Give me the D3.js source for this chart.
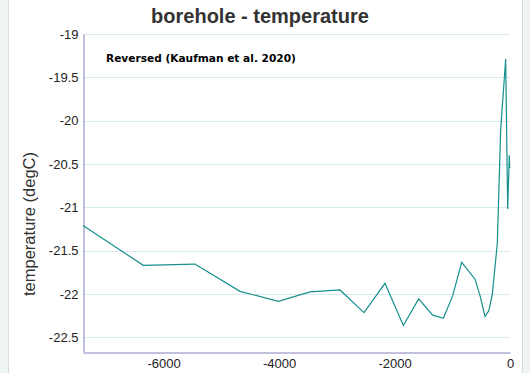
<!DOCTYPE html>
<html>
<head>
<meta charset="utf-8">
<script src="https://cdn.jsdelivr.net/npm/d3@7"></script>
<style>
  body { margin: 0; background: #fff; }
  svg text { font-family: "Liberation Sans", Arial, sans-serif; }
</style>
</head>
<body>
<div id="chart-area"></div>
<script>
// borehole temperature record (years CE, degC)
var years = [-7394, -6350, -5455, -4675, -4012, -3463, -2944, -2528, -2165, -1847,
  -1581, -1339, -1154, -992, -836, -606, -519, -433, -364, -306,
  -220, -161, -75, -40, -12, -5];
var temps = [-21.21, -21.67, -21.655, -21.97, -22.085, -21.977, -21.954, -22.215, -21.877, -22.364,
  -22.057, -22.245, -22.28, -22.02, -21.636, -21.83, -22.02, -22.26, -22.19, -22.0,
  -21.42, -20.10, -19.29, -21.02, -20.4, -20.55];
var yTicks = [-19, -19.5, -20, -20.5, -21, -21.5, -22, -22.5];
var xTicks = [-6000, -4000, -2000, 0];

var width = 530;
var height = 373;
var margin = {top: 34, right: 20, bottom: 21, left: 83};

var svg = d3.select("#chart-area").append("svg")
  .attr("width", width)
  .attr("height", height)

// page side bands
svg.append("rect").attr("x", 0).attr("y", 0).attr("width", 8).attr("height", height).attr("fill", "#eef4f4")
svg.append("rect").attr("x", 523).attr("y", 0).attr("width", 7).attr("height", height).attr("fill", "#eef4f4")
svg.append("line").attr("x1", 8.5).attr("x2", 8.5).attr("y1", 0).attr("y2", height).attr("stroke", "#d8dcdc")
svg.append("line").attr("x1", 522.5).attr("x2", 522.5).attr("y1", 0).attr("y2", height).attr("stroke", "#d8dcdc")

var x = d3.scaleLinear()
  .domain([-7394, 0])
  .range([margin.left, 510])

var y = d3.scaleLinear()
  .domain([-22.67, -19])
  .range([height - margin.bottom, margin.top])

// grid
svg.append("g")
  .selectAll("line").data(yTicks).enter().append("line")
  .attr("x1", margin.left).attr("x2", 510)
  .attr("y1", d => Math.round(y(d)) + 0.5).attr("y2", d => Math.round(y(d)) + 0.5)
  .attr("stroke", "#d6eaf0")

// y axis
var yAxisCall = d3.axisLeft(y).tickValues(yTicks).tickSize(0).tickPadding(5)
  .tickFormat(d => String(d))
var yAx = svg.append("g")
  .attr("transform", "translate(" + (margin.left + 0.5) + ",0)")
  .call(yAxisCall)
yAx.select(".domain").attr("stroke", "#8484c0")
yAx.selectAll("text").attr("font-size", "13px").attr("fill", "#222")

// x axis
var xAxisCall = d3.axisBottom(x).tickValues(xTicks).tickSize(0).tickPadding(6)
  .tickFormat(d => String(d))
var xAx = svg.append("g")
  .attr("transform", "translate(0," + (height - margin.bottom + 0.5) + ")")
  .call(xAxisCall)
xAx.select(".domain").attr("stroke", "#8484c0")
xAx.selectAll("text").attr("font-size", "13px").attr("fill", "#222")

// line
var line = d3.line()
  .x((d, i) => x(years[i]))
  .y(d => y(d))

svg.append("path")
  .datum(temps)
  .attr("d", line)
  .attr("fill", "none")
  .attr("stroke", "#15908c")
  .attr("stroke-width", 1.2)

// title
svg.append("text")
  .attr("x", 260)
  .attr("y", 23)
  .attr("text-anchor", "middle")
  .attr("font-size", "20px")
  .attr("font-weight", "bold")
  .attr("fill", "#333")
  .text("borehole - temperature")

// annotation
svg.append("text")
  .attr("x", 106)
  .attr("y", 62)
  .attr("font-size", "10.6px")
  .attr("font-weight", "bold")
  .style("font-family", "'DejaVu Sans', sans-serif")
  .attr("fill", "#000")
  .text("Reversed (Kaufman et al. 2020)")

// Y Label
svg.append("text")
  .attr("x", -224)
  .attr("y", 35)
  .attr("font-size", "16.5px")
  .attr("text-anchor", "middle")
  .attr("transform", "rotate(-90)")
  .attr("fill", "#333")
  .text("temperature (degC)")
</script>
</body>
</html>
